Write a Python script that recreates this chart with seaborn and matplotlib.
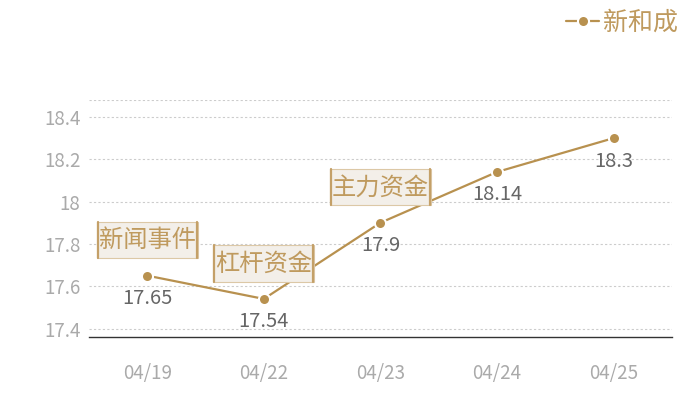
import matplotlib
matplotlib.use("Agg")
import matplotlib.pyplot as plt
import matplotlib.transforms as mtrans
from matplotlib.patches import Rectangle
from matplotlib.lines import Line2D
import seaborn as sns
import pandas as pd

dates = ["04/19", "04/22", "04/23", "04/24", "04/25"]
prices = [17.65, 17.54, 17.9, 18.14, 18.3]
series_name = "新和成"
event_labels = ["新闻事件", "杠杆资金", "主力资金", None, None]
y_ticks = [17.4, 17.6, 17.8, 18.0, 18.2, 18.4]
y_tick_labels = ["17.4", "17.6", "17.8", "18", "18.2", "18.4"]

sns.set_theme(style="white")
plt.rcParams['font.family'] = ['Noto Sans CJK SC', 'DejaVu Sans']

gold = "#b8914f"
label_gold = "#bf9a5e"
df = pd.DataFrame({"date": dates, "price": prices})

fig = plt.figure(figsize=(7, 4), dpi=100)
ax = fig.add_axes([0.127, 0.1575, 0.833, 0.5925])

sns.lineplot(data=df, x="date", y="price", ax=ax, color=gold, lw=1.6,
             marker="o", markersize=8, markeredgecolor="white",
             markeredgewidth=1.5, label=series_name, zorder=3, sort=False)

ax.set_xlim(-0.5, 4.5)
ax.set_ylim(17.36, 18.48)
ax.set_yticks(y_ticks)
ax.set_yticklabels(y_tick_labels)
for y in y_ticks + [18.48]:
    ax.axhline(y, color="#cccccc", lw=0.8, ls=(0, (2, 2)), zorder=0)

for s in ["top", "right", "left"]:
    ax.spines[s].set_visible(False)
ax.spines["bottom"].set_color("#333333")
ax.spines["bottom"].set_linewidth(1.0)
ax.tick_params(axis="both", length=0, labelsize=13.5, labelcolor="#aaaaaa")
ax.tick_params(axis="x", pad=19)
ax.tick_params(axis="y", pad=6)
ax.set_xlabel("")
ax.set_ylabel("")

# label box geometry in points, relative to its data point
box_dy, box_w, box_h = 25.5, 72.5, 26.0
ident = mtrans.IdentityTransform()
sc = fig.dpi / 72.0

for i, (d, p) in enumerate(zip(dates, prices)):
    ax.annotate(f"{p:g}", (i, p), xytext=(0, -9), textcoords="offset points",
                ha="center", va="top", fontsize=14.5, color="#666666", zorder=4)
    lab = event_labels[i]
    if lab:
        px, py = ax.transData.transform((i, p))
        x0 = px - box_w / 2 * sc
        y0 = py + (box_dy - box_h / 2) * sc
        w = box_w * sc
        h = box_h * sc
        ax.add_patch(Rectangle((x0, y0), w, h, transform=ident,
                               fc="#f3efe9", ec="#dcc8a6", lw=0.8,
                               zorder=5, clip_on=False))
        for xe in (x0 + 1, x0 + w - 1):
            ax.add_line(Line2D([xe, xe], [y0, y0 + h], transform=ident,
                               color="#c4a068", lw=1.6, zorder=6,
                               clip_on=False))
        ax.annotate(lab, (i, p), xytext=(0, box_dy), textcoords="offset points",
                    ha="center", va="center", fontsize=17.5, color=label_gold,
                    zorder=7, annotation_clip=False)

leg = ax.legend(loc="upper right", bbox_to_anchor=(1.027, 1.423), frameon=False,
                fontsize=18, handlelength=1.3, handletextpad=0.15,
                borderaxespad=0)
for t in leg.get_texts():
    t.set_color(label_gold)

fig.savefig("out.png", dpi=100)
